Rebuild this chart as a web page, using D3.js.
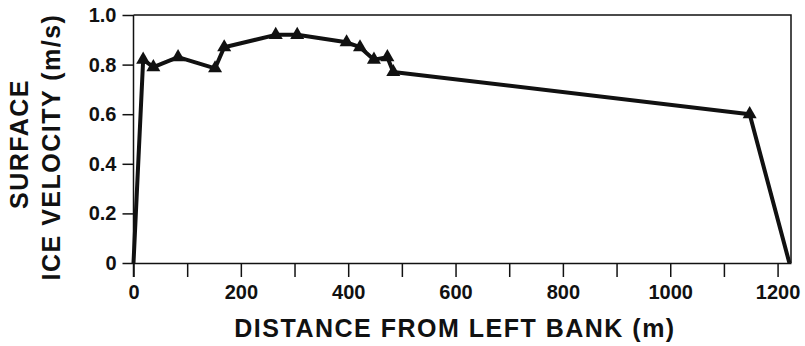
<!DOCTYPE html>
<html>
<head>
<meta charset="utf-8">
<script src="https://cdn.jsdelivr.net/npm/d3@7"></script>
<style>
  body { margin: 0; background: #fff; }
  text { font-family: "Liberation Sans", Arial, Helvetica, sans-serif; fill: #111; }
</style>
</head>
<body>
<div id="chart"></div>
<script>
// distance from left bank (m) and surface ice velocity (m/s)
const distance = [0, 18, 37, 83, 152, 169, 265, 305, 397, 422, 448, 473, 484, 1148, 1222];
const velocity = [0, 0.82, 0.79, 0.83, 0.785, 0.87, 0.92, 0.92, 0.89, 0.87, 0.82, 0.83, 0.77, 0.60, 0];
// triangles are drawn at every measured point except the two banks
const marked = [false, true, true, true, true, true, true, true, true, true, true, true, true, true, false];
const xTicks = [0, 100, 200, 300, 400, 500, 600, 700, 800, 900, 1000, 1100, 1200];
const xLabels = [0, 200, 400, 600, 800, 1000, 1200];
const yTicks = [0, 0.2, 0.4, 0.6, 0.8, 1.0];

let width = 805, height = 346;
let margin = {top: 15, right: 14, bottom: 83, left: 133.5};

let svg = d3.select("#chart")
    .append("svg")
    .attr("width", width)
    .attr("height", height);

let x = d3.scaleLinear()
    .domain([0, 1225])
    .range([margin.left, width - margin.right]);

let y = d3.scaleLinear()
    .domain([0, 1])
    .range([height - margin.bottom, margin.top]);

let points = distance.map((d, i) => ({x: d, y: velocity[i], mark: marked[i]}));

// frame (top + right)
svg.append("path")
    .attr("d", `M${x(0)},${y(1)}H${x(1225)}V${y(0)}`)
    .attr("fill", "none")
    .attr("stroke", "#111")
    .attr("stroke-width", 1.5);

// x axis
let xAxis = svg.append("g")
    .attr("transform", `translate(0, ${y(0)})`)
    .call(d3.axisBottom(x)
        .tickValues(xTicks)
        .tickSize(14)
        .tickSizeOuter(0)
        .tickPadding(8)
        .tickFormat(d => xLabels.includes(d) ? d : ""));
xAxis.select(".domain").attr("stroke-width", 1.5).attr("stroke", "#111");
xAxis.selectAll(".tick line").attr("stroke-width", 1.5).attr("stroke", "#111");
xAxis.selectAll(".tick text")
    .style("font-size", "20px")
    .style("font-weight", "bold");

// y axis
let yAxis = svg.append("g")
    .attr("transform", `translate(${x(0)}, 0)`)
    .call(d3.axisLeft(y)
        .tickValues(yTicks)
        .tickSize(11)
        .tickSizeOuter(0)
        .tickPadding(6)
        .tickFormat(d => d === 0 ? "0" : d3.format(".1f")(d)));
yAxis.select(".domain")
    .attr("d", `M0,${y(1)}V${y(0) + 14}`)
    .attr("stroke-width", 1.5).attr("stroke", "#111");
yAxis.selectAll(".tick line").attr("stroke-width", 1.5).attr("stroke", "#111");
yAxis.selectAll(".tick text")
    .style("font-size", "20px")
    .style("font-weight", "bold");

// line
let line = d3.line()
    .x(d => x(d.x))
    .y(d => y(d.y));
svg.append("path")
    .datum(points)
    .attr("d", line)
    .attr("fill", "none")
    .attr("stroke", "#111")
    .attr("stroke-width", 4)
    .attr("stroke-linejoin", "round");

// triangles
svg.selectAll(".tri")
    .data(points.filter(d => d.mark))
    .enter()
    .append("path")
    .attr("class", "tri")
    .attr("d", d3.symbol().type(d3.symbolTriangle).size(85))
    .attr("transform", d => `translate(${x(d.x)}, ${y(d.y)})`)
    .attr("fill", "#111");

// axis titles
svg.append("text")
    .attr("x", 455)
    .attr("y", 337)
    .attr("text-anchor", "middle")
    .style("font-size", "25px")
    .style("font-weight", "bold")
    .style("letter-spacing", "1.5px")
    .text("DISTANCE FROM LEFT BANK (m)");

svg.append("text")
    .attr("transform", "translate(28, 144) rotate(-90)")
    .attr("text-anchor", "middle")
    .style("font-size", "25px")
    .style("font-weight", "bold")
    .style("letter-spacing", "1.5px")
    .text("SURFACE");

svg.append("text")
    .attr("transform", "translate(60, 147) rotate(-90)")
    .attr("text-anchor", "middle")
    .style("font-size", "25px")
    .style("font-weight", "bold")
    .style("letter-spacing", "1.5px")
    .text("ICE VELOCITY (m/s)");
</script>
</body>
</html>
